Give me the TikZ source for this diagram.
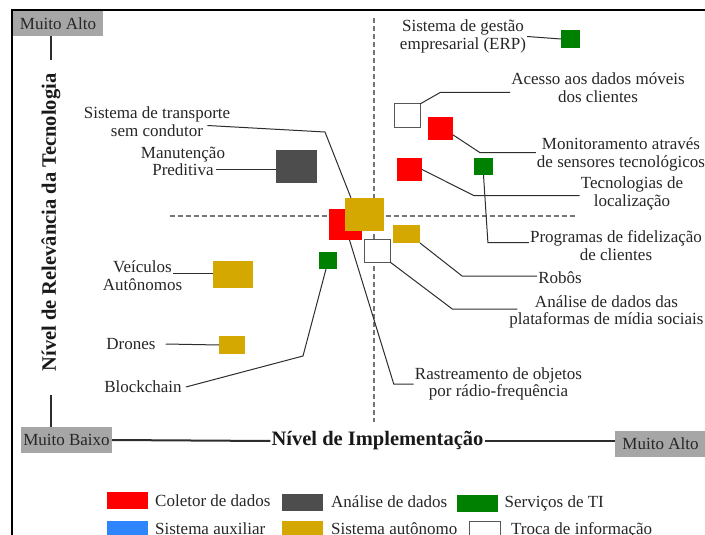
\documentclass[tikz,border=0pt]{standalone}
\usepackage{fontspec}
\setmainfont{Liberation Serif}
\usetikzlibrary{calc, positioning}
\definecolor{coletor}{RGB}{255,0,0}
\definecolor{analise}{RGB}{77,77,77}
\definecolor{servico}{RGB}{0,128,0}
\definecolor{auxiliar}{RGB}{46,134,255}
\definecolor{autonomo}{RGB}{212,168,0}
\definecolor{escala}{RGB}{166,166,166}
\definecolor{linha}{RGB}{45,45,45}

\begin{document}
\begin{tikzpicture}[x=1pt, y=-1pt,
    tech/.style={rectangle, inner sep=0pt, outer sep=0pt},
    troca/.style={tech, fill=white, draw=linha!80, line width=1pt},
    lbl/.style={font=\fontsize{17}{17.5}\selectfont, align=center, inner sep=1pt, text=black!85},
    axistitle/.style={font=\bfseries\fontsize{20.5}{22}\selectfont, inner sep=1pt, text=black!90},
    scalebox/.style={fill=escala, font=\fontsize{17}{17.5}\selectfont, text=black!85, inner sep=0pt, minimum width=91pt, minimum height=26pt},
    conn/.style={draw=linha, line width=1pt},
    axisline/.style={draw=linha, line width=2pt},
    legsq/.style={tech, minimum width=41pt, minimum height=17pt},
    quadrant/.style={draw=black!55, line width=1.8pt, dash pattern=on 5pt off 3pt}]
                \clip (0,0) rectangle (705,535);
                % Frame
                \draw[line width=1.5pt] (12,10) rectangle (740,600);

                % Quadrant lines
                \draw[quadrant] (170,216) -- (575,216);
                \draw[quadrant] (374,18) -- (374,422);

                % Axes
                \node[scalebox, minimum width=90pt, minimum height=25pt] (boxTop) at (58,23.5) {Muito Alto};
                \node[scalebox] (boxBaixo) at (66.5,440) {Muito Baixo};
                \node[scalebox] (boxRight) at (660.5,444) {Muito Alto};
                \node[axistitle, rotate=90] (yTitle) at (51,222.5) {Nível de Relevância da Tecnologia};
                \node[axistitle] (xTitle) at (377.5,441) {Nível de Implementação};
                \draw[axisline] ([yshift=12pt]yTitle.east) -- (yTitle.east |- boxTop.south);
                \draw[axisline] ([yshift=-22pt]yTitle.west) -- (yTitle.west |- boxBaixo.north);
                \draw[axisline] (boxBaixo.east) -- (xTitle.west);
                \draw[axisline] (xTitle.east) -- (xTitle.east -| boxRight.west);

                % Technologies
                \node[tech, fill=servico, minimum width=19pt, minimum height=18pt] (sqERP) at (570.5,39) {};
                \node[troca, minimum width=26pt, minimum height=24pt] (sqAcesso) at (407,116) {};
                \node[tech, fill=coletor, minimum width=25pt, minimum height=23pt] (sqMonit) at (440.5,128.5) {};
                \node[tech, fill=coletor, minimum width=25pt, minimum height=23pt] (sqLocal) at (409.5,169.5) {};
                \node[tech, fill=servico, minimum width=19pt, minimum height=17pt] (sqFidel) at (483.5,166.5) {};
                \node[tech, fill=analise, minimum width=41pt, minimum height=33pt] (sqPred) at (296.5,166.5) {};
                \node[tech, fill=coletor, minimum width=33pt, minimum height=31pt] (sqRastr) at (345.5,224.5) {};
                \node[tech, fill=autonomo, minimum width=39pt, minimum height=33pt] (sqTransp) at (364.5,214.5) {};
                \node[tech, fill=autonomo, minimum width=27pt, minimum height=18pt] (sqRobos) at (406.5,234) {};
                \node[troca, minimum width=26pt, minimum height=23pt] (sqSocial) at (377,250.5) {};
                \node[tech, fill=servico, minimum width=18pt, minimum height=17pt] (sqBlock) at (328,260.5) {};
                \node[tech, fill=autonomo, minimum width=40pt, minimum height=27pt] (sqVeic) at (233,274.5) {};
                \node[tech, fill=autonomo, minimum width=26pt, minimum height=18pt] (sqDrones) at (232,345) {};

                % Labels
                \node[lbl] (lbERP) at (463,36.5) {Sistema de gestão\\empresarial (ERP)};
                \node[lbl] (lbAcesso) at (598,87.5) {Acesso aos dados móveis\\dos clientes};
                \node[lbl] (lbMonit) at (621,154.5) {Monitoramento através\\de sensores tecnológicos};
                \node[lbl] (lbLocal) at (632,193.5) {Tecnologias de\\localização};
                \node[lbl] (lbFidel) at (616,245.5) {Programas de fidelização\\de clientes};
                \node[lbl] (lbRobos) at (560,278) {Robôs};
                \node[lbl] (lbSocial) at (606.5,312) {Análise de dados das\\plataformas de mídia sociais};
                \node[lbl] (lbRastr) at (498.5,384) {Rastreamento de objetos\\por rádio-frequência};
                \node[lbl] (lbTransp) at (157,121.5) {Sistema de transporte\\sem condutor};
                \node[lbl] (lbPred) at (183,161.5) {Manutenção\\Preditiva};
                \node[lbl] (lbVeic) at (142.5,275.5) {Veículos\\Autônomos};
                \node[lbl] (lbDrones) at (131,344) {Drones};
                \node[lbl] (lbBlock) at (143,387) {Blockchain};

                % Connectors
                \draw[conn] (lbERP.east) -- (sqERP.west);
                \draw[conn] ([yshift=-5pt]lbAcesso.west) -- ++(-70,0) -- (sqAcesso.north east);
                \draw[conn] ([yshift=2pt]lbMonit.west) -- ++(-56,0) -- (sqMonit.-27);
                \draw[conn] ([yshift=-2pt]lbLocal.west) -- ++(-106,0) -- (sqLocal.east);
                \draw[conn] ([yshift=3pt]lbFidel.west) -- ++(-41,0) -- (sqFidel.south);
                \draw[conn] ([yshift=2pt]lbRobos.west) -- ++(-75,0) -- (sqRobos.south east);
                \draw[conn] ([xshift=9pt,yshift=3pt]lbSocial.west) -- ++(-65,0) -- (sqSocial.south east);
                \draw[conn] (lbRastr.west) -- ++(-20,0) -- ([xshift=4pt]sqRastr.south);
                \draw[conn] ([xshift=-24pt,yshift=-4pt]lbTransp.east) -- (325,132) -- ([xshift=6pt]sqTransp.north west);
                \draw[conn] ([xshift=-10pt,yshift=-7.5pt]lbPred.east) coordinate (predStart) -- (predStart -| sqPred.west);
                \draw[conn] ([xshift=-10pt,yshift=2pt]lbVeic.east) coordinate (veicStart) -- (veicStart -| sqVeic.west);
                \draw[conn] ([xshift=9pt]lbDrones.east) -- (sqDrones.west);
                \draw[conn] ([xshift=3pt]lbBlock.east) -- (303,356) -- ([xshift=-2pt]sqBlock.south);

                % Legend
                \node[legsq, fill=coletor] (legColetor) at (127.5,500.5) {};
                \node[lbl, right=6pt of legColetor] (txtColetor) {Coletor de dados};
                \node[legsq, fill=analise] (legAnalise) at (302.5,502) {};
                \node[lbl, right=7pt of legAnalise] (txtAnalise) {Análise de dados};
                \node[legsq, fill=servico] (legServico) at (477,503) {};
                \node[lbl, right=6pt of legServico] (txtServico) {Serviços de TI};
                \node[legsq, fill=auxiliar] (legAuxiliar) at (127.5,529) {};
                \node[lbl, right=6pt of legAuxiliar] (txtAuxiliar) {Sistema auxiliar};
                \node[legsq, fill=autonomo] (legAutonomo) at (302.5,529) {};
                \node[lbl, right=7pt of legAutonomo] (txtAutonomo) {Sistema autônomo};
                \node[troca, minimum width=31pt, minimum height=18pt] (legTroca) at (484.5,530) {};
                \node[lbl, right=10pt of legTroca] (txtTroca) {Troca de informação};
            \end{tikzpicture}
\end{document}
